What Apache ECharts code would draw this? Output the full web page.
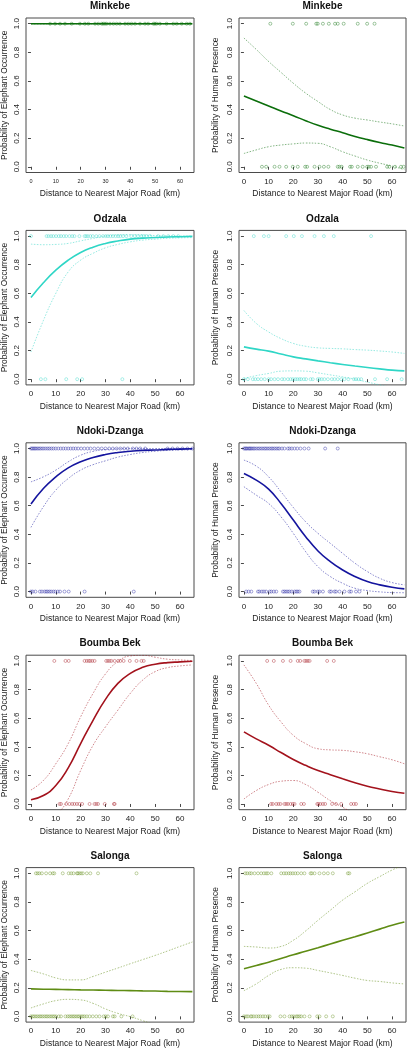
<!DOCTYPE html>
<html>
<head>
<meta charset="utf-8">
<script src="https://cdn.jsdelivr.net/npm/echarts/dist/echarts.min.js"></script>
<style>
html,body{margin:0;padding:0;background:#fff;}
#chart{width:411px;height:1050px;}
</style>
</head>
<body>
<div id="chart"></div>
<script>
// ---------- DATA ----------
const DIST = [0, 5, 10, 15, 20, 25, 30, 35, 40, 45, 50, 55, 60, 65];
const X_TICKS = [0, 10, 20, 30, 40, 50, 60];
const Y_TICKS = [0, 0.2, 0.4, 0.6, 0.8, 1.0];
const X_TITLE = 'Distance to Nearest Major Road (km)';
const Y_TITLE_ELE = 'Probability of Elephant Occurrence';
const Y_TITLE_HUM = 'Probability of Human Presence';

// Minkebe – elephant
const MIN_ELE_FIT   = [1,1,1,1,1,1,1,1,1,1,1,1,1,1];
const MIN_ELE_UP    = [1,1,1,1,1,1,1,1,1,1,1,1,1,1];
const MIN_ELE_LO    = [1,1,1,1,1,1,1,1,1,1,1,1,1,1];
const MIN_ELE_PRES  = [7.7,9.7,11.7,13.7,16.4,19.7,21.7,23.1,25.8,27.1,28.5,29.1,29.8,30.5,31.8,33.2,34.5,35.8,37.9,39.2,40.5,41.9,43.9,45.9,47.2,49.3,49.9,50.6,51.9,54.6,57.3,58.7,60.7,62.7,64];
const MIN_ELE_ABS   = [];
// Minkebe – human
const MIN_HUM_FIT   = [0.495,0.46,0.425,0.39,0.357,0.322,0.29,0.263,0.238,0.212,0.19,0.17,0.152,0.131];
const MIN_HUM_UP    = [0.90,0.82,0.736,0.66,0.584,0.515,0.456,0.40,0.362,0.34,0.327,0.313,0.30,0.285];
const MIN_HUM_LO    = [0.093,0.118,0.14,0.152,0.16,0.166,0.164,0.14,0.105,0.075,0.047,0.025,0.005,-0.02];
const MIN_HUM_PRES  = [10.7,19.8,25.2,29.3,29.9,32,34.4,36.9,38,40.4,46.1,49.9,52.9];
const MIN_HUM_ABS   = [7.3,9,12.4,14.4,17.1,19.8,21.8,24.8,25.6,28.6,30.6,32.4,34.2,38,38.7,39.6,43,43.7,46.1,48.1,49.9,50.6,51.5,53.5,58,58.9,61.2,63.6,64.7];

// Odzala – elephant
const ODZ_ELE_FIT   = [0.571,0.674,0.762,0.832,0.886,0.923,0.949,0.966,0.979,0.986,0.99,0.994,0.996,0.998];
const ODZ_ELE_UP    = [0.944,0.94,0.942,0.949,0.967,0.984,1.0,1.008,1.01,1.008,1.004,1.002,1.001,1.0];
const ODZ_ELE_LO    = [0.19,0.41,0.60,0.75,0.832,0.88,0.918,0.942,0.96,0.972,0.979,0.985,0.988,0.99];
const ODZ_ELE_PRES  = [0,6.3,7.1,8.1,9,10.1,11.2,12.1,13.2,14.2,15.5,16.6,17.5,19.5,21.6,22.2,22.9,23.9,24.9,26.3,27.6,29,30.1,31,32,33,34.1,35.1,36,37.1,38.4,40.4,41.8,43.1,44.5,45.4,46.5,47.9,51.2,53.3,55.3,57.3,59.3];
const ODZ_ELE_ABS   = [4.0,5.8,14.2,18.6,20.6,36.8];
// Odzala – human
const ODZ_HUM_FIT   = [0.226,0.21,0.196,0.176,0.156,0.142,0.128,0.115,0.103,0.092,0.082,0.072,0.063,0.058];
const ODZ_HUM_UP    = [0.48,0.39,0.33,0.284,0.25,0.23,0.219,0.215,0.212,0.207,0.203,0.197,0.19,0.18];
const ODZ_HUM_LO    = [0.005,0.025,0.04,0.056,0.058,0.056,0.044,0.03,0.016,0,-0.02,-0.04,-0.06,-0.08];
const ODZ_HUM_PRES  = [4.0,8.1,10,17.1,20.2,23.5,28.6,32.4,36.4,51.5];
const ODZ_HUM_ABS   = [0,1.6,3.6,4.6,5.7,7,8.4,10,11,12.4,13.8,15.4,16.4,17.8,18.9,19.8,20.8,21.6,22.5,23.2,24.3,25.2,27,27.9,29.9,30.6,31.5,32.6,34,35.6,36.7,38,39.4,40.7,42.3,44.5,45.4,46.4,47.5,53.1,58,63.9];

// Ndoki-Dzanga – elephant
const NDO_ELE_FIT   = [0.612,0.72,0.802,0.865,0.907,0.937,0.958,0.972,0.981,0.987,0.99,0.994,0.996,0.998];
const NDO_ELE_UP    = [0.767,0.802,0.849,0.907,0.953,0.98,0.993,0.998,1.0,1.0,1.0,1.0,1.0,1.0];
const NDO_ELE_LO    = [0.449,0.593,0.709,0.79,0.849,0.887,0.914,0.94,0.958,0.972,0.981,0.987,0.99,0.993];
const NDO_ELE_PRES  = [0,0.5,1,1.5,2,2.6,3.2,3.8,4.5,5.2,6,6.8,7.5,8.3,9.1,10,11,12,13,14,15,16,17,18,19,20.2,21.5,22.8,24,25.5,27,28.5,30,31.5,33,34.5,36,37.5,39,41,42.5,44,46,55,57,59,61,63,65];
const NDO_ELE_ABS   = [0,0.7,1.8,3.6,4.4,5.4,6.1,6.7,7.4,8.1,9,9.8,10.8,11.7,13.5,15.2,21.6,41.4];
// Ndoki-Dzanga – human
const NDO_HUM_FIT   = [0.826,0.779,0.716,0.616,0.5,0.384,0.284,0.209,0.151,0.105,0.07,0.047,0.03,0.019];
const NDO_HUM_UP    = [0.919,0.877,0.802,0.698,0.588,0.488,0.407,0.337,0.267,0.198,0.14,0.093,0.063,0.047];
const NDO_HUM_LO    = [0.733,0.674,0.616,0.523,0.407,0.279,0.174,0.105,0.058,0.023,0.007,-0.002,-0.007,-0.008];
const NDO_HUM_PRES  = [0,0.5,0.9,1.3,1.9,2.3,2.7,3.2,3.8,4.3,5,5.7,6.3,7,7.7,8.4,9,9.7,10.4,11.1,11.7,12.4,13.1,13.8,14.4,15.4,16.4,17.8,18.5,19.4,20.5,21.6,22.9,24.5,26.2,32.9,38];
const NDO_HUM_ABS   = [0.9,1.9,3,5.7,6.3,7.3,8.1,9,10.4,11.1,12.1,13.1,15.8,16.4,17.1,17.8,18.5,19.4,20.5,21.2,21.8,22.5,27.9,28.6,29.9,30.6,32,34.7,35.3,36.7,37.3,38.7,40.7,42.7,43.4,45.4,46.8];

// Boumba Bek – elephant
const BOU_ELE_FIT   = [0.03,0.059,0.129,0.253,0.422,0.585,0.731,0.843,0.913,0.955,0.977,0.988,0.993,0.998];
const BOU_ELE_UP    = [0.098,0.164,0.281,0.422,0.609,0.773,0.909,0.995,1.035,1.04,1.026,1.012,1.007,1.002];
const BOU_ELE_LO    = [-0.35,-0.2,-0.09,0.035,0.234,0.41,0.539,0.656,0.773,0.866,0.925,0.953,0.965,0.972];
const BOU_ELE_PRES  = [9.4,13.9,15.2,21.6,22.5,23.3,23.9,24.7,25.6,30.3,31,31.7,32.4,33.7,35.1,36,37.3,39.8,42.5,44.5,45.4];
const BOU_ELE_ABS   = [11.5,12.1,14.2,15.5,16.6,17.5,18.5,19.5,20.6,23.6,25.6,26.3,27,29.7,33.4,33.7];
// Boumba Bek – human
const BOU_HUM_FIT   = [0.504,0.455,0.41,0.36,0.311,0.27,0.234,0.205,0.176,0.148,0.124,0.105,0.087,0.075];
const BOU_HUM_UP    = [0.972,0.843,0.691,0.574,0.48,0.422,0.386,0.378,0.375,0.365,0.351,0.33,0.309,0.281];
const BOU_HUM_LO    = [0.035,0.094,0.136,0.159,0.164,0.136,0.082,0.023,-0.023,-0.07,-0.12,-0.17,-0.22,-0.27];
const BOU_HUM_PRES  = [9.4,12.1,15.8,18.9,21.8,22.8,24.5,25.2,25.9,26.6,33.7,36.4];
const BOU_HUM_ABS   = [11,11.7,13.1,14,14.8,16.4,17.1,17.8,18.9,19.8,20.5,23.2,24.3,29.7,30.2,31,32,32.9,35.7,37.3,39.4,43.4,44.5,45.4];

// Salonga – elephant
const SAL_ELE_FIT   = [0.192,0.19,0.189,0.187,0.185,0.184,0.183,0.181,0.18,0.178,0.177,0.175,0.174,0.173];
const SAL_ELE_UP    = [0.321,0.297,0.269,0.255,0.255,0.279,0.309,0.338,0.368,0.397,0.426,0.457,0.489,0.52];
const SAL_ELE_LO    = [0.059,0.087,0.11,0.119,0.115,0.091,0.052,0.021,-0.002,-0.03,-0.06,-0.09,-0.12,-0.15];
const SAL_ELE_PRES  = [2,2.7,3.4,4.4,6.1,7.7,8.8,9.4,12.8,15.2,16.2,17.1,18.5,18.9,19.5,20.2,20.9,22.5,23.9,27,42.5];
const SAL_ELE_ABS   = [0,0.7,1.3,2,2.7,3.4,4,4.7,5.4,6.1,6.7,7.4,8.1,8.8,9.4,10.1,11.2,12.1,13.9,14.8,15.5,16.2,16.9,17.5,18.2,18.9,19.5,20.2,20.9,21.6,22.5,23.6,24.9,26.3,27.6,29.3,30.1,31,33,33.7,36.4,40.9];
// Salonga – human
const SAL_HUM_FIT   = [0.333,0.356,0.379,0.405,0.431,0.455,0.48,0.506,0.532,0.557,0.583,0.61,0.637,0.66];
const SAL_HUM_UP    = [0.489,0.485,0.478,0.489,0.532,0.597,0.672,0.742,0.813,0.871,0.93,0.977,1.023,1.06];
const SAL_HUM_LO    = [0.18,0.227,0.286,0.328,0.34,0.337,0.321,0.304,0.286,0.267,0.251,0.244,0.234,0.227];
const SAL_HUM_PRES  = [0.5,1.3,2.3,3,4.3,5.7,7,8.1,9,9.7,11.1,15.1,16.2,17.1,18.1,18.9,19.8,20.8,21.8,23.2,24.5,27,27.5,28.6,30.6,32.4,34,36,42.1,42.7];
const SAL_HUM_ABS   = [0,0.9,1.6,2.7,3.2,4,5,5.9,6.7,7.7,8.6,9.7,10.4,14.8,16.4,18.5,19.4,20.2,21.2,21.8,22.5,23.2,24.5,26.6,29.7,30.6,33.3,36];

// ---------- PANELS ----------
const panels = [
  {t:'Minkebe', y:Y_TITLE_ELE, r:0, c:0, col:'#0b6e0b', fit:MIN_ELE_FIT, up:MIN_ELE_UP, lo:MIN_ELE_LO, pres:MIN_ELE_PRES, abs:MIN_ELE_ABS, small:true},
  {t:'Minkebe', y:Y_TITLE_HUM, r:0, c:1, col:'#0b6e0b', fit:MIN_HUM_FIT, up:MIN_HUM_UP, lo:MIN_HUM_LO, pres:MIN_HUM_PRES, abs:MIN_HUM_ABS},
  {t:'Odzala', y:Y_TITLE_ELE, r:1, c:0, col:'#2fd6c6', fit:ODZ_ELE_FIT, up:ODZ_ELE_UP, lo:ODZ_ELE_LO, pres:ODZ_ELE_PRES, abs:ODZ_ELE_ABS},
  {t:'Odzala', y:Y_TITLE_HUM, r:1, c:1, col:'#2fd6c6', fit:ODZ_HUM_FIT, up:ODZ_HUM_UP, lo:ODZ_HUM_LO, pres:ODZ_HUM_PRES, abs:ODZ_HUM_ABS},
  {t:'Ndoki-Dzanga', y:Y_TITLE_ELE, r:2, c:0, col:'#14149e', fit:NDO_ELE_FIT, up:NDO_ELE_UP, lo:NDO_ELE_LO, pres:NDO_ELE_PRES, abs:NDO_ELE_ABS},
  {t:'Ndoki-Dzanga', y:Y_TITLE_HUM, r:2, c:1, col:'#14149e', fit:NDO_HUM_FIT, up:NDO_HUM_UP, lo:NDO_HUM_LO, pres:NDO_HUM_PRES, abs:NDO_HUM_ABS},
  {t:'Boumba Bek', y:Y_TITLE_ELE, r:3, c:0, col:'#a3121c', fit:BOU_ELE_FIT, up:BOU_ELE_UP, lo:BOU_ELE_LO, pres:BOU_ELE_PRES, abs:BOU_ELE_ABS},
  {t:'Boumba Bek', y:Y_TITLE_HUM, r:3, c:1, col:'#a3121c', fit:BOU_HUM_FIT, up:BOU_HUM_UP, lo:BOU_HUM_LO, pres:BOU_HUM_PRES, abs:BOU_HUM_ABS},
  {t:'Salonga', y:Y_TITLE_ELE, r:4, c:0, col:'#5f8c14', fit:SAL_ELE_FIT, up:SAL_ELE_UP, lo:SAL_ELE_LO, pres:SAL_ELE_PRES, abs:SAL_ELE_ABS},
  {t:'Salonga', y:Y_TITLE_HUM, r:4, c:1, col:'#5f8c14', fit:SAL_HUM_FIT, up:SAL_HUM_UP, lo:SAL_HUM_LO, pres:SAL_HUM_PRES, abs:SAL_HUM_ABS}
];

const FONT = '"Liberation Sans", Arial, Helvetica, sans-serif';
const grids = [], xAxes = [], yAxes = [], series = [], graphics = [];
const ROW_TOP = 18, ROW_STEP = 212.4, BOX_H = 154.5;
const COL_LEFT = [26, 239], COL_W = [168, 167];

function rgba(hex, a) {
  const n = parseInt(hex.slice(1), 16);
  return 'rgba(' + ((n >> 16) & 255) + ',' + ((n >> 8) & 255) + ',' + (n & 255) + ',' + a + ')';
}

panels.forEach((p, i) => {
  const top = ROW_TOP + ROW_STEP * p.r;
  const left = COL_LEFT[p.c], w = COL_W[p.c];
  grids.push({left: left, top: top, width: w, height: BOX_H, show: true,
    borderColor: '#4a4a4a', borderWidth: 1, backgroundColor: 'transparent', containLabel: false});
  xAxes.push({type: 'value', gridIndex: i, min: -2, max: 65.65,
    axisLine: {show: false}, splitLine: {show: false},
    axisTick: {show: true, inside: false, length: 3, customValues: X_TICKS, lineStyle: {color: '#4a4a4a'}},
    axisLabel: {customValues: X_TICKS, fontFamily: FONT, fontSize: p.small ? 5.5 : 8, color: '#222', margin: p.small ? 6 : 5},
    name: X_TITLE, nameLocation: 'middle', nameGap: 17,
    nameTextStyle: {fontFamily: FONT, fontSize: 8.5, color: '#222'}});
  yAxes.push({type: 'value', gridIndex: i, min: -0.04, max: 1.04,
    axisLine: {show: false}, splitLine: {show: false},
    axisTick: {show: true, inside: false, length: 3, customValues: Y_TICKS, lineStyle: {color: '#4a4a4a'}},
    axisLabel: {customValues: Y_TICKS, rotate: 90, fontFamily: FONT, fontSize: 8, color: '#222', margin: 5,
      formatter: v => Number(v).toFixed(1)},
    name: p.y, nameLocation: 'middle', nameGap: p.c === 0 ? 17 : 19,
    nameTextStyle: {fontFamily: FONT, fontSize: 8.4, color: '#222'}});

  const ptStyle = {color: 'transparent', borderColor: rgba(p.col, 0.7), borderWidth: 0.7};
  series.push({type: 'scatter', xAxisIndex: i, yAxisIndex: i, symbol: 'circle', symbolSize: 3,
    data: p.pres.map(x => [x, 1]), itemStyle: ptStyle, silent: true, z: 2, animation: false});
  series.push({type: 'scatter', xAxisIndex: i, yAxisIndex: i, symbol: 'circle', symbolSize: 3,
    data: p.abs.map(x => [x, 0]), itemStyle: ptStyle, silent: true, z: 2, animation: false});
  [p.up, p.lo].forEach(arr => {
    series.push({type: 'line', xAxisIndex: i, yAxisIndex: i, data: DIST.map((x, k) => [x, arr[k]]),
      showSymbol: false, smooth: 0.5, clip: true,
      lineStyle: {color: rgba(p.col, 0.5), width: 1, type: [1.5, 1.5]}, silent: true, z: 3, animation: false});
  });
  series.push({type: 'line', xAxisIndex: i, yAxisIndex: i, data: DIST.map((x, k) => [x, p.fit[k]]),
    showSymbol: false, smooth: 0.5, clip: true,
    lineStyle: {color: p.col, width: 1.6}, silent: true, z: 4, animation: false});

  graphics.push({type: 'text', x: left + w / 2, y: top - 11.5,
    style: {text: p.t, textAlign: 'center', textVerticalAlign: 'middle',
      font: 'bold 10px ' + FONT, fill: '#111'}});
});

const chart = echarts.init(document.getElementById('chart'), null, {renderer: 'canvas'});
chart.setOption({
  backgroundColor: '#fff',
  animation: false,
  grid: grids, xAxis: xAxes, yAxis: yAxes, series: series,
  graphic: graphics
});
</script>
</body>
</html>
